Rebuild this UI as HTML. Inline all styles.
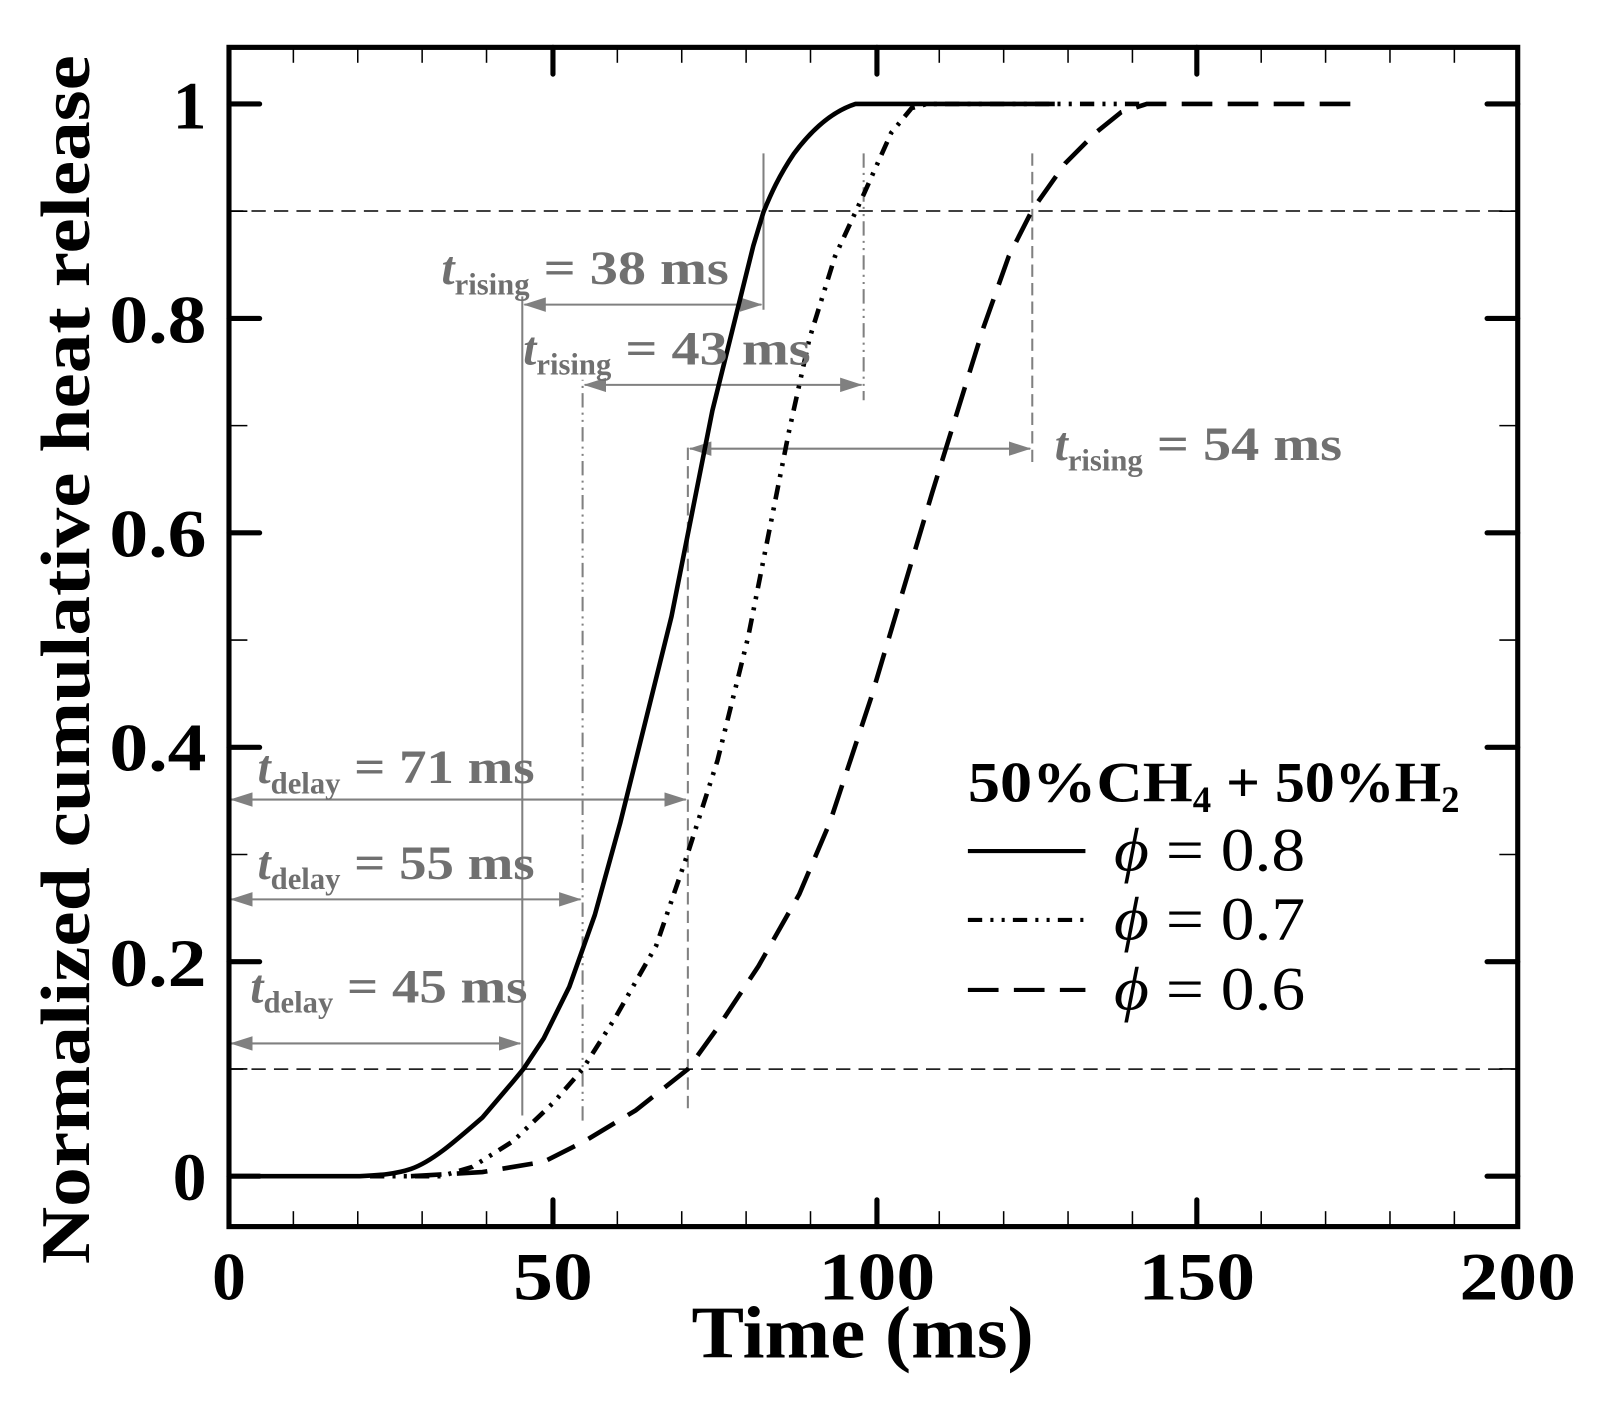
<!DOCTYPE html>
<html><head><meta charset="utf-8"><style>
html,body{margin:0;padding:0;background:#fff;}
svg{display:block;}
text{font-family:"Liberation Serif",serif;}
</style></head><body>
<svg width="1610" height="1401" viewBox="0 0 1610 1401" xmlns="http://www.w3.org/2000/svg">
<defs>
<marker id="ab" markerWidth="22" markerHeight="14" refX="21" refY="7" orient="auto-start-reverse" markerUnits="userSpaceOnUse">
<path d="M0,0 L22,7 L0,14 z" fill="#808080"/>
</marker>
</defs>
<g transform="matrix(1.022 0 0 1.029 2.1 -1)">
<line x1="222" y1="206" x2="1483" y2="206" stroke="#000" stroke-width="1.5" stroke-dasharray="14,8"/>
<line x1="222" y1="1040" x2="1483" y2="1040" stroke="#000" stroke-width="1.5" stroke-dasharray="14,8"/>

<g stroke="#000" stroke-width="1.5">
<line x1="285" y1="1193" x2="285" y2="1178"/><line x1="348" y1="1193" x2="348" y2="1178"/><line x1="411" y1="1193" x2="411" y2="1178"/><line x1="474" y1="1193" x2="474" y2="1178"/>
<line x1="602" y1="1193" x2="602" y2="1178"/><line x1="665" y1="1193" x2="665" y2="1178"/><line x1="728" y1="1193" x2="728" y2="1178"/><line x1="791" y1="1193" x2="791" y2="1178"/>
<line x1="917" y1="1193" x2="917" y2="1178"/><line x1="980" y1="1193" x2="980" y2="1178"/><line x1="1043" y1="1193" x2="1043" y2="1178"/><line x1="1106" y1="1193" x2="1106" y2="1178"/>
<line x1="1232" y1="1193" x2="1232" y2="1178"/><line x1="1295" y1="1193" x2="1295" y2="1178"/><line x1="1358" y1="1193" x2="1358" y2="1178"/><line x1="1421" y1="1193" x2="1421" y2="1178"/>
<line x1="285" y1="47" x2="285" y2="62"/><line x1="348" y1="47" x2="348" y2="62"/><line x1="411" y1="47" x2="411" y2="62"/><line x1="474" y1="47" x2="474" y2="62"/>
<line x1="602" y1="47" x2="602" y2="62"/><line x1="665" y1="47" x2="665" y2="62"/><line x1="728" y1="47" x2="728" y2="62"/><line x1="791" y1="47" x2="791" y2="62"/>
<line x1="917" y1="47" x2="917" y2="62"/><line x1="980" y1="47" x2="980" y2="62"/><line x1="1043" y1="47" x2="1043" y2="62"/><line x1="1106" y1="47" x2="1106" y2="62"/>
<line x1="1232" y1="47" x2="1232" y2="62"/><line x1="1295" y1="47" x2="1295" y2="62"/><line x1="1358" y1="47" x2="1358" y2="62"/><line x1="1421" y1="47" x2="1421" y2="62"/>
<line x1="222" y1="1039.8" x2="240" y2="1039.8"/><line x1="222" y1="831.4" x2="240" y2="831.4"/><line x1="222" y1="623" x2="240" y2="623"/><line x1="222" y1="414.6" x2="240" y2="414.6"/><line x1="222" y1="206.2" x2="240" y2="206.2"/>
<line x1="1483" y1="1039.8" x2="1465" y2="1039.8"/><line x1="1483" y1="831.4" x2="1465" y2="831.4"/><line x1="1483" y1="623" x2="1465" y2="623"/><line x1="1483" y1="414.6" x2="1465" y2="414.6"/><line x1="1483" y1="206.2" x2="1465" y2="206.2"/>
</g>
<g stroke="#000" stroke-width="5" stroke-linecap="round">
<line x1="539" y1="1193" x2="539" y2="1167"/><line x1="856" y1="1193" x2="856" y2="1167"/><line x1="1169" y1="1193" x2="1169" y2="1167"/>
<line x1="539" y1="47" x2="539" y2="73"/><line x1="856" y1="47" x2="856" y2="73"/><line x1="1169" y1="47" x2="1169" y2="73"/>
<line x1="222" y1="1144" x2="252" y2="1144"/><line x1="222" y1="935.6" x2="252" y2="935.6"/><line x1="222" y1="727.2" x2="252" y2="727.2"/><line x1="222" y1="518.8" x2="252" y2="518.8"/><line x1="222" y1="310.4" x2="252" y2="310.4"/><line x1="222" y1="102" x2="252" y2="102"/>
<line x1="1483" y1="1144" x2="1453" y2="1144"/><line x1="1483" y1="935.6" x2="1453" y2="935.6"/><line x1="1483" y1="727.2" x2="1453" y2="727.2"/><line x1="1483" y1="518.8" x2="1453" y2="518.8"/><line x1="1483" y1="310.4" x2="1453" y2="310.4"/><line x1="1483" y1="102" x2="1453" y2="102"/>
</g>

<g stroke="#808080" stroke-width="2" fill="none">
<line x1="509" y1="1085" x2="509" y2="289"/>
<line x1="745" y1="150" x2="745" y2="302"/>
<line x1="568" y1="1090" x2="568" y2="370" stroke-dasharray="14,5,2,5,2,5"/>
<line x1="843" y1="150" x2="843" y2="390" stroke-dasharray="14,5,2,5,2,5"/>
<line x1="671" y1="1078" x2="671" y2="430" stroke-dasharray="12,6"/>
<line x1="1008" y1="150" x2="1008" y2="452" stroke-dasharray="12,6"/>
<line x1="511" y1="297" x2="743" y2="297" marker-start="url(#ab)" marker-end="url(#ab)"/>
<line x1="570" y1="375" x2="841" y2="375" marker-start="url(#ab)" marker-end="url(#ab)"/>
<line x1="673" y1="437" x2="1006" y2="437" marker-start="url(#ab)" marker-end="url(#ab)"/>
<line x1="224" y1="778" x2="669" y2="778" marker-start="url(#ab)" marker-end="url(#ab)"/>
<line x1="224" y1="875" x2="566" y2="875" marker-start="url(#ab)" marker-end="url(#ab)"/>
<line x1="224" y1="1015" x2="507" y2="1015" marker-start="url(#ab)" marker-end="url(#ab)"/>
</g>

<path fill="none" stroke="#000" stroke-width="4.5" stroke-dasharray="30,15" d="M400,1144 L470,1140 L530,1130 L570,1110 L620,1080 L671,1040 L700,1000 L740,940 L780,870 L810,800 L830,740 L850,680 L880,580 L910,480 L935,400 L960,320 L985,250 L1008,205 L1040,160 L1070,130 L1095,110 L1120,102 L1330,102"/>
<path fill="none" stroke="#000" stroke-width="4.5" stroke-dasharray="14,8,3,8,3,8" d="M360,1144 L430,1144 L460,1135 L500,1110 L540,1072 L568,1040 L600,990 L640,920 L671,830 L700,740 L730,620 L750,520 L770,420 L790,330 L815,250 L843,190 L870,130 L890,106 L905,102 L1120,102"/>
<path fill="none" stroke="#000" stroke-width="4.5" stroke-linejoin="round" d="M222,1144 L350,1144 C370,1143 385,1142 400,1137 C420,1130 440,1113 470,1087 L500,1052 L510,1040 L530,1010 L555,960 L580,890 L605,800 L630,700 L655,600 L675,500 L695,400 L715,320 L735,240 L745,207 C752,190 760,172 775,150 C790,130 810,110 835,102 L1030,102"/>

<rect x="222" y="47" width="1261" height="1146" fill="none" stroke="#000" stroke-width="5"/>

<g font-weight="bold" font-size="66" fill="#000" text-anchor="end">
<text x="200" y="1167">0</text>
<text x="200" y="959" textLength="95" lengthAdjust="spacingAndGlyphs">0.2</text>
<text x="200" y="750" textLength="95" lengthAdjust="spacingAndGlyphs">0.4</text>
<text x="200" y="542" textLength="95" lengthAdjust="spacingAndGlyphs">0.6</text>
<text x="200" y="334" textLength="95" lengthAdjust="spacingAndGlyphs">0.8</text>
<text x="200" y="126">1</text>
</g>
<g font-weight="bold" font-size="66" fill="#000" text-anchor="middle">
<text x="222" y="1264">0</text>
<text x="539" y="1264" textLength="78" lengthAdjust="spacingAndGlyphs">50</text>
<text x="856" y="1264" textLength="114" lengthAdjust="spacingAndGlyphs">100</text>
<text x="1169" y="1264" textLength="114" lengthAdjust="spacingAndGlyphs">150</text>
<text x="1483" y="1264" textLength="114" lengthAdjust="spacingAndGlyphs">200</text>
</g>
<text x="842" y="1320" font-weight="bold" font-size="72" text-anchor="middle" textLength="335" lengthAdjust="spacingAndGlyphs">Time (ms)</text>
<text transform="translate(85,642) rotate(-90)" font-weight="bold" font-size="68" text-anchor="middle" textLength="1175" lengthAdjust="spacingAndGlyphs">Normalized cumulative heat release</text>

<g font-weight="bold" font-size="46" fill="#707070">
<text x="430" y="277"><tspan font-style="italic">t</tspan><tspan font-size="30" dy="10">rising</tspan><tspan dy="-10" textLength="195" lengthAdjust="spacingAndGlyphs"> = 38 ms</tspan></text>
<text x="510" y="355"><tspan font-style="italic">t</tspan><tspan font-size="30" dy="10">rising</tspan><tspan dy="-10" textLength="195" lengthAdjust="spacingAndGlyphs"> = 43 ms</tspan></text>
<text x="1030" y="448"><tspan font-style="italic">t</tspan><tspan font-size="30" dy="10">rising</tspan><tspan dy="-10" textLength="195" lengthAdjust="spacingAndGlyphs"> = 54 ms</tspan></text>
<text x="250" y="762"><tspan font-style="italic">t</tspan><tspan font-size="30" dy="10">delay</tspan><tspan dy="-10" textLength="190" lengthAdjust="spacingAndGlyphs"> = 71 ms</tspan></text>
<text x="250" y="855"><tspan font-style="italic">t</tspan><tspan font-size="30" dy="10">delay</tspan><tspan dy="-10" textLength="190" lengthAdjust="spacingAndGlyphs"> = 55 ms</tspan></text>
<text x="243" y="975"><tspan font-style="italic">t</tspan><tspan font-size="30" dy="10">delay</tspan><tspan dy="-10" textLength="190" lengthAdjust="spacingAndGlyphs"> = 45 ms</tspan></text>
</g>

<text x="945" y="780" font-weight="bold" font-size="56"><tspan textLength="220" lengthAdjust="spacingAndGlyphs">50%CH</tspan><tspan font-size="36" dy="10">4</tspan><tspan dy="-10" textLength="225" lengthAdjust="spacingAndGlyphs"> + 50%H</tspan><tspan font-size="36" dy="10">2</tspan></text>
<line x1="945" y1="828" x2="1060" y2="828" stroke="#000" stroke-width="4"/>
<line x1="945" y1="895" x2="1060" y2="895" stroke="#000" stroke-width="4" stroke-dasharray="14,8,3,8,3,8"/>
<line x1="945" y1="963" x2="1060" y2="963" stroke="#000" stroke-width="4" stroke-dasharray="30,15"/>
<g font-size="60" fill="#000">
<text x="1088" y="847" textLength="187" lengthAdjust="spacingAndGlyphs"><tspan font-style="italic">ϕ</tspan> = 0.8</text>
<text x="1088" y="914" textLength="187" lengthAdjust="spacingAndGlyphs"><tspan font-style="italic">ϕ</tspan> = 0.7</text>
<text x="1088" y="982" textLength="187" lengthAdjust="spacingAndGlyphs"><tspan font-style="italic">ϕ</tspan> = 0.6</text>
</g>
</g>
</svg>
</body></html>
